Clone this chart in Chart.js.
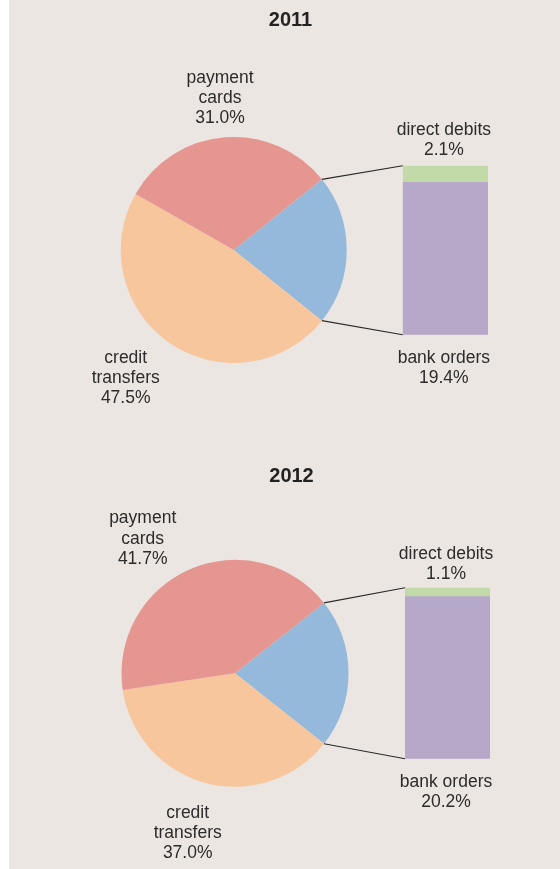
<!DOCTYPE html>
<html>
<head>
<meta charset="utf-8">
<script src="https://cdn.jsdelivr.net/npm/chart.js@4.4.1/dist/chart.umd.min.js"></script>
<style>
  html, body { margin: 0; padding: 0; }
  body { width: 560px; height: 869px; background: #ffffff; position: relative; overflow: hidden; }
  .panel { position: absolute; left: 9px; top: 0; width: 551px; height: 869px; background: #ebe6e2; }
  .year { position: absolute; left: 0; width: 560px; }
  .year canvas { position: absolute; left: 0; top: 0; }
</style>
</head>
<body>
<div class="panel"></div>
<div class="year" style="top:0;height:434px">
  <canvas id="pie0" width="560" height="434"></canvas>
  <canvas id="bar0" width="560" height="434"></canvas>
</div>
<div class="year" style="top:434px;height:435px">
  <canvas id="pie1" width="560" height="435"></canvas>
  <canvas id="bar1" width="560" height="435"></canvas>
</div>
<script>
const years = ['2011', '2012'];
const paymentCards = [31.0, 41.7];
const creditTransfers = [47.5, 37.0];
const bankOrders = [19.4, 20.2];
const directDebits = [2.1, 1.1];

const colors = {
  payment: '#e69691',
  credit: '#f8c69c',
  other: '#95b9da',
  bank: '#b6a8c9',
  direct: '#c2daa8',
  text: '#2c2c2c',
  line: '#2a2a2a'
};

const FONT = '"Liberation Sans", Arial, sans-serif';
const LINE_H = 20.3;
const W = 560;

// where things sit inside each year's block
const layouts = [
  {
    height: 434,
    pie: { cx: 233.7, cy: 250, r: 113 },
    bar: { left: 402.7, right: 488, top: 165.7, bottom: 334.7 },
    title: { x: 290.5, y: 20.3 },
    paymentLabel: { dx: -13.7, dy: -152 },
    creditLabel: { dx: -108, dy: 128.3 },
    topGap: 15.5
  },
  {
    height: 435,
    pie: { cx: 235, cy: 239.3, r: 113.5 },
    bar: { left: 405, right: 490, top: 153.7, bottom: 324.7 },
    title: { x: 291.5, y: 42.5 },
    paymentLabel: { dx: -92.3, dy: -134.5 },
    creditLabel: { dx: -47.3, dy: 160 },
    topGap: 13.5
  }
];

function pct(v) {
  return v.toFixed(1) + '%';
}

function drawLines(ctx, lines, x, yCenter) {
  const start = yCenter - (lines.length - 1) * LINE_H / 2;
  lines.forEach((line, k) => ctx.fillText(line, x, start + k * LINE_H));
}

function buildPie(i) {
  const L = layouts[i];
  const other = bankOrders[i] + directDebits[i];
  return new Chart(document.getElementById('pie' + i), {
    type: 'pie',
    data: {
      labels: ['bank orders + direct debits', 'credit transfers', 'payment cards'],
      datasets: [{
        data: [other, creditTransfers[i], paymentCards[i]],
        backgroundColor: [colors.other, colors.credit, colors.payment],
        borderWidth: 0
      }]
    },
    options: {
      responsive: false,
      animation: false,
      rotation: 90 - other * 1.8,
      layout: {
        padding: {
          left: L.pie.cx - L.pie.r,
          right: W - L.pie.cx - L.pie.r,
          top: L.pie.cy - L.pie.r,
          bottom: L.height - L.pie.cy - L.pie.r
        }
      },
      plugins: {
        legend: { display: false },
        tooltip: { enabled: false }
      }
    }
  });
}

function overlay(i, pie) {
  return {
    id: 'overlay' + i,
    afterDraw(chart) {
      const L = layouts[i];
      const ctx = chart.ctx;
      const arc = pie.getDatasetMeta(0).data[0];
      const credit = pie.getDatasetMeta(0).data[1];
      const bottomBar = chart.getDatasetMeta(0).data[0];
      const topBar = chart.getDatasetMeta(1).data[0];
      const barLeft = topBar.x - topBar.width / 2;
      const barTop = topBar.y;
      const barBottom = bottomBar.base;
      const textX = topBar.x - 1.5;

      ctx.save();
      ctx.strokeStyle = colors.line;
      ctx.lineWidth = 1.1;
      ctx.beginPath();
      ctx.moveTo(arc.x + arc.outerRadius * Math.cos(arc.startAngle), arc.y + arc.outerRadius * Math.sin(arc.startAngle));
      ctx.lineTo(barLeft, barTop);
      ctx.moveTo(arc.x + arc.outerRadius * Math.cos(arc.endAngle), arc.y + arc.outerRadius * Math.sin(arc.endAngle));
      ctx.lineTo(barLeft, barBottom);
      ctx.stroke();

      ctx.textAlign = 'center';
      ctx.textBaseline = 'middle';

      ctx.fillStyle = '#222';
      ctx.font = 'bold 20px ' + FONT;
      ctx.fillText(years[i], L.title.x, L.title.y);

      ctx.fillStyle = colors.text;
      ctx.font = '17.5px ' + FONT;
      drawLines(ctx, ['payment', 'cards', pct(paymentCards[i])],
        credit.x + L.paymentLabel.dx, credit.y + L.paymentLabel.dy);
      drawLines(ctx, ['credit', 'transfers', pct(creditTransfers[i])],
        credit.x + L.creditLabel.dx, credit.y + L.creditLabel.dy);

      ctx.fillText('direct debits', textX, barTop - L.topGap - LINE_H);
      ctx.fillText(pct(directDebits[i]), textX, barTop - L.topGap);
      ctx.fillText('bank orders', textX, barBottom + 23);
      ctx.fillText(pct(bankOrders[i]), textX, barBottom + 23 + LINE_H);
      ctx.restore();
    }
  };
}

function buildBar(i, pie) {
  const L = layouts[i];
  return new Chart(document.getElementById('bar' + i), {
    type: 'bar',
    data: {
      labels: [years[i]],
      datasets: [
        { label: 'bank orders', data: [bankOrders[i]], backgroundColor: colors.bank },
        { label: 'direct debits', data: [directDebits[i]], backgroundColor: colors.direct }
      ]
    },
    options: {
      responsive: false,
      animation: false,
      layout: {
        padding: {
          left: L.bar.left,
          right: W - L.bar.right,
          top: L.bar.top,
          bottom: L.height - L.bar.bottom
        }
      },
      datasets: {
        bar: { barPercentage: 1, categoryPercentage: 1, borderWidth: 0 }
      },
      scales: {
        x: { stacked: true, display: false },
        y: { stacked: true, display: false, min: 0, max: bankOrders[i] + directDebits[i] }
      },
      plugins: {
        legend: { display: false },
        tooltip: { enabled: false }
      }
    },
    plugins: [overlay(i, pie)]
  });
}

years.forEach((_, i) => {
  const pie = buildPie(i);
  buildBar(i, pie);
});
</script>
</body>
</html>
